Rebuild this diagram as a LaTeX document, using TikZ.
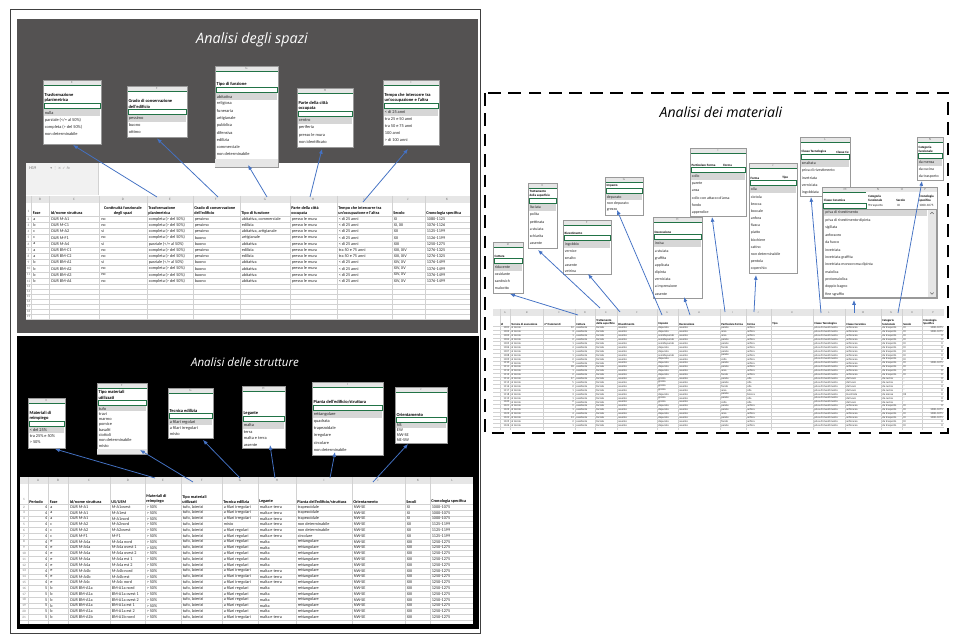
\documentclass[tikz,border=0pt]{standalone}
\usepackage{fontspec}
\setmainfont{Carlito}
\newfontfamily\titlefont{Open Sans}
\newfontfamily\symfont{DejaVu Sans}
\usepackage{tikz}
\usetikzlibrary{arrows.meta}

\definecolor{spazibg}{RGB}{84,82,82}
\definecolor{xlgreen}{RGB}{33,115,70}
\definecolor{hdgray}{RGB}{230,230,230}
\definecolor{hlgray}{RGB}{214,214,214}
\definecolor{gridgray}{RGB}{210,210,210}
\definecolor{arrowblue}{RGB}{68,114,196}

\tikzset{
  paneltitle/.style={font=\titlefont\itshape\fontsize{10.2}{12}\selectfont, inner sep=0pt},
  colletter/.style={font=\fontsize{2.4}{2.8}\selectfont, text=black!55, inner sep=0pt},
  rownum/.style={font=\fontsize{2.4}{2.8}\selectfont, text=black!55, inner sep=0pt},
  ddtitle/.style={font=\bfseries\fontsize{3.2}{3.8}\selectfont, align=left, anchor=south west, inner sep=0pt},
  dditem/.style={font=\fontsize{3.1}{3.6}\selectfont, anchor=west, inner sep=0pt, text=black!85},
  ddframe/.style={draw=black!40, line width=0.3pt},
  grid/.style={draw=gridgray, line width=0.2pt},
  cell/.style={font=\fontsize{3}{3.5}\selectfont, anchor=west, inner sep=0pt, text=black!85},
  hcell/.style={font=\bfseries\fontsize{3}{3.5}\selectfont, anchor=south west, align=left, inner sep=0pt},
  rcell/.style={font=\fontsize{2}{2.4}\selectfont, anchor=west, inner sep=0pt, text=black!80},
  rhcell/.style={font=\bfseries\fontsize{2.1}{2.5}\selectfont, anchor=south west, align=left, inner sep=0pt},
  link/.style={draw=arrowblue, line width=0.55pt, -{Latex[length=3.4pt,width=2.8pt]}},
}

% dropdown list: x, top, width, height, column letter, title, input offset, item step, items
\newcommand{\ddbox}[9]{%
  \fill[white] (#1,#2) rectangle ({#1+#3},{#2+#4});
  \fill[hdgray] (#1,#2) rectangle ({#1+#3},{#2+5.5});
  \draw[xlgreen, line width=0.4pt] (#1,{#2+5.5}) -- ({#1+#3},{#2+5.5});
  \node[colletter] (ddl#1-#2) at ({#1+#3/2},{#2+2.75}) {#5};
  \node[ddtitle] (ddt#1-#2) at ({#1+1.3},{#2+#7-0.6}) {#6};
  \fill[hlgray] ({#1+0.7},{#2+#7+6}) rectangle ({#1+#3-0.7},{#2+#7+6+#8});
  \draw[xlgreen, line width=0.4pt] ({#1+1.2},{#2+#7}) rectangle ({#1+#3-1.2},{#2+#7+5.5});
  \foreach \itm [count=\i from 0] in {#9}
    \node[dditem] (ddi#1-#2-\i) at ({#1+1.6},{#2+#7+6+(\i+0.5)*#8}) {\itm};
  \draw[ddframe] (#1,#2) rectangle ({#1+#3},{#2+#4});
}

\def\cmp{completa (> del 50\%)}
\def\prz{parziale (</= al 50\%)}
\def\tecR{a filari regolari}
\def\tecI{a filari irregolari}
\def\legMT{malta e terra}

\begin{document}
\begin{tikzpicture}[x=0.025cm, y=-0.025cm]
\useasboundingbox (0,0) rectangle (954,636);

% Frame and panels
\draw[black!75, line width=0.5pt] (10,9) rectangle (480,633);
\fill[spazibg] (17,19) rectangle (478,333);
\fill[black] (17,336) rectangle (479,629);
\draw[black, line width=1.3pt, dash pattern=on 9pt off 5.5pt] (485,93) rectangle (948,433);

% Titles
\node[paneltitle, text=white] (tspazi) at (252,40) {Analisi degli spazi};
\node[paneltitle, text=white, font=\titlefont\itshape\fontsize{8.2}{10}\selectfont] (tstrutt) at (245,362) {Analisi delle strutture};
\node[paneltitle, text=black, font=\titlefont\itshape\fontsize{10}{12}\selectfont] (tmat) at (721,112) {Analisi dei materiali};

% ---------------- Sheet: spazi
\fill[white] (26,163) rectangle (470,319);
\fill[hdgray!55] (26,163) rectangle (98,195);
\draw[grid] (98,163) -- (98,195);
\node[cell, text=black!60] (namebox) at (29,168) {H19};
\node[cell, font=\symfont\fontsize{2.6}{3}\selectfont, text=black!45] (fxbar) at (50,168) {▾ ⋮ × ✓ \textit{fx}};
\fill[hdgray] (26,196) rectangle (470,203);
\foreach \l/\cx in {B/40,C/74,D/123,E/170,F/216,G/265,H/313,I/364,J/408,K/447}
  \node[colletter] (spl\l) at (\cx,199.5) {\l};
\foreach \cx in {31,49,99,147,193,240,290,337,392,425}
  \draw[grid] (\cx,196) -- (\cx,319);
\foreach \r in {0,...,11}
  \draw[grid] (26,{216+\r*6.2}) -- (470,{216+\r*6.2});
\foreach \r in {1,...,7}
  \draw[grid] (26,{284.2+\r*5}) -- (470,{284.2+\r*5});
\node[rownum] (spn1) at (28.5,211) {1};
\foreach \r in {2,...,12}
  \node[rownum] (spn\r) at (28.5,{216+(\r-1.5)*6.2}) {\r};
\foreach \r in {13,...,19}
  \node[rownum] (spn\r) at (28.5,{284.2+(\r-12.5)*5}) {\r};
% header
\node[hcell] (sph1) at (32.5,215) {Fase};
\node[hcell] (sph2) at (50.5,215) {Id/nome struttura};
\node[hcell, anchor=south, align=center] (sph3) at (123,215) {Continuità funzionale\\degli spazi};
\node[hcell] (sph4) at (148,215) {Trasformazione\\planimetrica};
\node[hcell] (sph5) at (194,215) {Grado di conservazione\\dell'edificio};
\node[hcell] (sph6) at (241,215) {Tipo di funzione};
\node[hcell] (sph7) at (291,215) {Parte della città\\occupata};
\node[hcell] (sph8) at (338,215) {Tempo che intercorre tra\\un'occupazione e l'altra};
\node[hcell] (sph9) at (393,215) {Secolo};
\node[hcell] (sph10) at (426,215) {Cronologia specifica};
% rows
\foreach \fa/\id/\co/\tr/\gr/\ti/\pa/\te/\se/\cr [count=\r from 0] in {
  a/DUR M-A1/no/\cmp/pessimo/{abitativa, commerciale}/presso le mura/< di 25 anni/XI/1080-1125,
  b/DUR M-C1/no/\cmp/pessimo/edilizia/presso le mura/< di 25 anni/{XI, XII}/1076-1126,
  c/DUR M-A2/si/\cmp/pessimo/{abitativa, artigianale}/presso le mura/< di 25 anni/XII/1125-1199,
  c/DUR M-F1/no/\cmp/buono/artigianale/presso le mura/< di 25 anni/XII/1126-1199,
  a/DUR M-A4/si/\prz/buono/abitativa/presso le mura/< di 25 anni/XIII/1250-1275,
  a/DUR BM-C1/no/\cmp/pessimo/edilizia/presso le mura/tra 50 e 75 anni/{XIII, XIV}/1276-1325,
  a/DUR BM-C2/no/\cmp/pessimo/edilizia/presso le mura/tra 50 e 75 anni/{XIII, XIV}/1276-1325,
  b/DUR BM-A1/si/\prz/buono/abitativa/presso le mura/< di 25 anni/{XIV, XV}/1376-1499,
  b/DUR BM-A2/no/\cmp/buono/abitativa/presso le mura/< di 25 anni/{XIV, XV}/1376-1499,
  b/DUR BM-A3/no/\cmp/buono/abitativa/presso le mura/< di 25 anni/{XIV, XV}/1376-1499,
  b/DUR BM-A4/no/\cmp/buono/abitativa/presso le mura/< di 25 anni/{XIV, XV}/1376-1499}
{
  \pgfmathsetmacro\yy{219.1+\r*6.2}
  \node[cell] (spa\r) at (33,\yy) {\fa};
  \node[cell] (spc\r) at (51,\yy) {\id};
  \node[cell] (spd\r) at (101,\yy) {\co};
  \node[cell] (spe\r) at (148.5,\yy) {\tr};
  \node[cell] (spf\r) at (194.5,\yy) {\gr};
  \node[cell] (spg\r) at (241.5,\yy) {\ti};
  \node[cell] (sph\r) at (291.5,\yy) {\pa};
  \node[cell] (spi\r) at (338.5,\yy) {\te};
  \node[cell] (spj\r) at (393.5,\yy) {\se};
  \node[cell] (spk\r) at (426.5,\yy) {\cr};
}

% dropdowns: spazi
\ddbox{43}{80}{58}{64}{E}{Trasformazione\\planimetrica}{23}{7.2}{nulla,\prz,\cmp,non determinabile}
\ddbox{127}{86}{60}{51}{F}{Grado di conservazione\\dell'edificio}{23}{7}{pessimo,buono,ottimo}
\ddbox{215}{66}{63}{101}{G}{Tipo di funzione}{21}{7.2}{abitativa,religiosa,funeraria,artigianale,pubblica,difensiva,edilizia,commerciale,non determinabile}
\fill[hdgray] (215.3,159.5) rectangle (277.7,166.7);
\ddbox{297}{88}{56}{59}{H}{Parte della città\\occupata}{23}{7.2}{centro,periferia,presso le mura,non identificato}
\ddbox{383}{80}{56}{65}{I}{Tempo che intercorre tra\\un'occupazione e l'altra}{23}{7}{< di 25 anni,tra 25 e 50 anni,tra 50 e 75 anni,100 anni,> di 100 anni}

% links: spazi
\coordinate (hE) at (157,197);  \coordinate (dTrasf) at (73,145);
\coordinate (hF) at (218,197);  \coordinate (dGrado) at (157,138.5);
\coordinate (hG) at (267,197);  \coordinate (dTipo) at (248,165);
\coordinate (hH) at (310,197);  \coordinate (dParte) at (322,149);
\coordinate (hI) at (363,202);  \coordinate (dTempo) at (408,149);
\draw[link] (hE) -- (dTrasf);
\draw[link] (hF) -- (dGrado);
\draw[link] (hG) -- (dTipo);
\draw[link] (hH) -- (dParte);
\draw[link] (hI) -- (dTempo);

% ---------------- Sheet: strutture
\fill[white] (20,477) rectangle (473,624);
\fill[hdgray] (20,477) rectangle (473,484);
\foreach \l/\cx in {A/38,B/58,C/89,D/128,E/163,F/202,G/240,H/277,I/324,J/378,K/418,L/452}
  \node[colletter] (stl\l) at (\cx,480.5) {\l};
\foreach \cx in {28,48,68,110,145,181,222,258,296,352,405,430}
  \draw[grid] (\cx,477) -- (\cx,624);
\foreach \r in {0,...,20}
  \draw[grid] (20,{504.1+\r*5.8}) -- (473,{504.1+\r*5.8});
\node[rownum] (stn1) at (24,499) {1};
\foreach \r in {2,...,21}
  \node[rownum] (stn\r) at (24,{504.1+(\r-1.5)*5.8}) {\r};
\node[hcell] (sth1) at (29,503.5) {Periodo};
\node[hcell] (sth2) at (49.5,503.5) {Fase};
\node[hcell] (sth3) at (69.5,503.5) {Id/nome struttura};
\node[hcell] (sth4) at (111,503.5) {US/USM};
\node[hcell] (sth5) at (146,503.5) {Materiali di\\reimpiego};
\node[hcell] (sth6) at (182,503.5) {Tipo materiali\\utilizzati};
\node[hcell] (sth7) at (223,503.5) {Tecnica edilizia};
\node[hcell] (sth8) at (259,503.5) {Legante};
\node[hcell] (sth9) at (297,503.5) {Pianta dell'edificio/struttura};
\node[hcell] (sth10) at (353,503.5) {Orientamento};
\node[hcell] (sth11) at (406,503.5) {Secoli};
\node[hcell] (sth12) at (431,503.5) {Cronologia specifica};
\foreach \pe/\fa/\id/\us/\tc/\lg/\pi/\se/\cr [count=\r from 0] in {
  4/a/DUR M-A1/M-A1ovest/\tecI/\legMT/trapezoidale/XI/1000-1075,
  4/a/DUR M-A1/M-A1est/\tecI/\legMT/trapezoidale/XI/1000-1075,
  4/a/DUR M-A1/M-A1nord/\tecI/\legMT/trapezoidale/XI/1000-1075,
  4/c/DUR M-A2/M-A2nord/misto/\legMT/non determinabile/XII/1125-1199,
  4/c/DUR M-A2/M-A2ovest/\tecR/\legMT/non determinabile/XII/1125-1199,
  4/c/DUR M-F1/M-F1/\tecR/\legMT/circolare/XII/1125-1199,
  4/e/DUR M-A4a/M-A4a nord/\tecR/malta/rettangolare/XIII/1250-1275,
  4/e/DUR M-A4a/M-A4a ovest 1/\tecR/malta/rettangolare/XIII/1250-1275,
  4/e/DUR M-A4a/M-A4a ovest 2/\tecR/malta/rettangolare/XIII/1250-1275,
  4/e/DUR M-A4a/M-A4a est 1/\tecR/malta/rettangolare/XIII/1250-1275,
  4/e/DUR M-A4a/M-A4a est 2/\tecR/malta/rettangolare/XIII/1250-1275,
  4/e/DUR M-A4b/M-A4b nord/\tecI/\legMT/rettangolare/XIII/1250-1275,
  4/e/DUR M-A4b/M-A4b est/\tecI/\legMT/rettangolare/XIII/1250-1275,
  4/e/DUR M-A4c/M-A4c nord/\tecI/\legMT/rettangolare/XIII/1250-1275,
  5/b/DUR BM-A1a/BM-A1a nord/\tecR/malta/rettangolare/XIII/1250-1275,
  5/b/DUR BM-A1a/BM-A1a ovest 1/\tecR/malta/rettangolare/XIII/1250-1275,
  5/b/DUR BM-A1a/BM-A1a ovest 2/\tecR/malta/rettangolare/XIII/1250-1275,
  5/b/DUR BM-A1a/BM-A1a est 1/\tecR/malta/rettangolare/XIII/1250-1275,
  5/b/DUR BM-A1a/BM-A1a est 2/\tecR/malta/rettangolare/XIII/1250-1275,
  5/b/DUR BM-A1b/BM-A1b nord/\tecI/\legMT/rettangolare/XIII/1250-1275}
{
  \pgfmathsetmacro\yy{507+\r*5.8}
  \node[cell, anchor=east] (sta\r) at (47.5,\yy) {\pe};
  \node[cell] (stb\r) at (50,\yy) {\fa};
  \node[cell] (stc\r) at (70,\yy) {\id};
  \node[cell] (std\r) at (111.5,\yy) {\us};
  \node[cell] (ste\r) at (146.5,\yy) {> 50\%};
  \node[cell] (stf\r) at (182.5,\yy) {tufo, laterizi};
  \node[cell] (stg\r) at (223.5,\yy) {\tc};
  \node[cell] (sth\r) at (259.5,\yy) {\lg};
  \node[cell] (sti\r) at (297.5,\yy) {\pi};
  \node[cell] (stj\r) at (353.5,\yy) {NW-SE};
  \node[cell] (stk\r) at (406.5,\yy) {\se};
  \node[cell] (stm\r) at (431.5,\yy) {\cr};
}

% dropdowns: strutture
\ddbox{28}{398}{37}{50}{E}{Materiali di\\reimpiego}{23}{6}{< del 25\%,tra 25\% e 50\%,> 50\%}
\ddbox{97}{383}{50}{71}{F}{Tipo materiali\\utilizzati}{17}{5.3}{tufo,travi,marmo,pomice,basalti,ciottoli,non determinabile,misto}
\fill[hdgray] (97.3,449.2) rectangle (146.7,453.7);
\ddbox{168}{388}{45}{50}{G}{Tecnica edilizia}{25}{6}{a filari regolari,a filari irregolari,misto}
\ddbox{242}{386}{43}{62}{H}{Legante}{30}{6.5}{malta,terra,malta e terra,assente}
\ddbox{312}{382}{71}{73}{I}{Pianta dell'edificio/struttura}{23}{7.1}{rettangolare,quadrata,trapezoidale,irregolare,circolare,non determinabile}
\ddbox{395}{387}{52}{56}{J}{Orientamento}{30}{5}{NS,EW,NW-SE,NE-SW}

% links: strutture
\coordinate (sE) at (155,478);  \coordinate (dMat) at (55,449);
\coordinate (sF) at (193,482);  \coordinate (dTmat) at (140,450);
\coordinate (sG) at (240,478);  \coordinate (dTec) at (203,440);
\coordinate (sH) at (275,478);  \coordinate (dLeg) at (270,445);
\coordinate (sI) at (330,478);  \coordinate (dPia) at (335,452);
\coordinate (sJ) at (373,482);  \coordinate (dOri) at (408,444);
\draw[link] (sE) -- (dMat);
\draw[link] (sF) -- (dTmat);
\draw[link] (sG) -- (dTec);
\draw[link] (sH) -- (dLeg);
\draw[link] (sI) -- (dPia);
\draw[link] (sJ) -- (dOri);

% ---------------- Sheet: materiali
\fill[white] (493,309) rectangle (944,430);
\fill[hdgray] (493,309) rectangle (944,316);
\foreach \l/\cx in {A/505,B/527,C/559,D/585,E/606,F/637,G/667,H/699,I/733,J/758,K/792,L/829,M/863,N/891,O/912,P/933}
  \node[colletter, font=\fontsize{2}{2.4}\selectfont] (mal\l) at (\cx,312.5) {\l};
\foreach \cx in {500,510,543,575,595,617,657,678,720,746,771,813,845,881,902,922}
  \draw[grid] (\cx,309) -- (\cx,430);
\foreach \r in {0,...,26}
  \draw[grid] (493,{326+\r*3.9}) -- (944,{326+\r*3.9});
\node[rhcell] (mah1) at (500.5,325.5) {Id};
\node[rhcell] (mah2) at (511,325.5) {Tecnica di esecuzione};
\node[rhcell] (mah3) at (544,325.5) {n° frammenti};
\node[rhcell] (mah4) at (576,325.5) {Cottura};
\node[rhcell] (mah5) at (596,325.5) {Trattamento\\della superficie};
\node[rhcell] (mah6) at (618,325.5) {Rivestimento};
\node[rhcell] (mah7) at (658,325.5) {Impasto};
\node[rhcell] (mah8) at (679,325.5) {Decorazione};
\node[rhcell] (mah9) at (721,325.5) {Particolare Forma};
\node[rhcell] (mah10) at (747,325.5) {Forma};
\node[rhcell] (mah11) at (772,325.5) {Tipo};
\node[rhcell] (mah12) at (814,325.5) {Classe Tecnologica};
\node[rhcell] (mah13) at (846,325.5) {Classe Ceramica};
\node[rhcell] (mah14) at (882,325.5) {Categoria\\funzionale};
\node[rhcell] (mah15) at (903,325.5) {Secolo};
\node[rhcell] (mah16) at (923,325.5) {Cronologia\\Specifica};
\foreach \id/\nf/\im/\pf/\fo/\cc/\ca/\se/\cr [count=\r from 0] in {
  1101/12/depurato/parete/anfora/anforaceo/da trasporto/XI/1000-1075,
  1102/3/depurato/ansa/anfora/anforaceo/da trasporto/XI/1000-1075,
  1103/1/semidepurato/ansa/anfora/anforaceo/da trasporto/XI/0,
  1104/2/semidepurato/parete/anfora/anforaceo/da trasporto/XI/0,
  1105/1/semidepurato/parete/anfora/anforaceo/da trasporto/XI/0,
  1106/4/depurato/fondo/anfora/anforaceo/da trasporto/XI/0,
  1107/1/depurato/parete/anfora/anforaceo/da trasporto/XI/0,
  1108/1/semidepurato/parete/anfora/anforaceo/da trasporto/XI/0,
  1109/2/depurato/collo/anfora/anforaceo/da trasporto/XI/0,
  1110/1/depurato/parete/anfora/anforaceo/da trasporto/XI/1000-1075,
  1111/18/depurato/parete/anfora/anforaceo/da trasporto/XI/0,
  1112/1/depurato/ansa/anfora/anforaceo/da trasporto/XI/0,
  1113/2/depurato/fondo/anfora/anforaceo/da trasporto/XI/0,
  1114/17/grezzo/parete/olla/da fuoco/da cucina/-/0,
  1115/5/grezzo/parete/olla/da fuoco/da cucina/-/0,
  1116/2/grezzo/fondo/olla/da fuoco/da cucina/-/0,
  1117/1/grezzo/ansa/olla/da fuoco/da cucina/-/0,
  1118/3/depurato/parete/brocca/invetriata/da mensa/XII/0,
  1119/1/grezzo/parete/olla/da fuoco/da cucina/-/0,
  1120/2/grezzo/collo/olla/da fuoco/da cucina/-/0,
  1121/9/depurato/parete/anfora/anforaceo/da trasporto/XI/0,
  1122/1/depurato/parete/anfora/anforaceo/da trasporto/XI/1000-1075,
  1123/4/depurato/ansa/anfora/anforaceo/da trasporto/XI/1000-1075,
  1124/13/depurato/parete/anfora/anforaceo/da trasporto/XI/1000-1075,
  1125/2/depurato/fondo/anfora/anforaceo/da trasporto/XI/0,
  1126/1/depurato/parete/anfora/anforaceo/da trasporto/XI/0}
{
  \pgfmathsetmacro\yy{327.95+\r*3.9}
  \node[rcell, anchor=east] (maa\r) at (509.5,\yy) {\id};
  \node[rcell] (mab\r) at (511,\yy) {al tornio};
  \node[rcell, anchor=east] (mac\r) at (574,\yy) {\nf};
  \node[rcell] (mad\r) at (576,\yy) {ossidante};
  \node[rcell] (mae\r) at (596,\yy) {lisciata};
  \node[rcell] (maf\r) at (618,\yy) {assente};
  \node[rcell] (mag\r) at (658,\yy) {\im};
  \node[rcell] (mah\r) at (679,\yy) {assente};
  \node[rcell] (mai\r) at (721,\yy) {\pf};
  \node[rcell] (maj\r) at (747,\yy) {\fo};
  \node[rcell] (mal\r) at (814,\yy) {priva di rivestimento};
  \node[rcell] (mam\r) at (846,\yy) {\cc};
  \node[rcell] (man\r) at (882,\yy) {\ca};
  \node[rcell] (mao\r) at (903,\yy) {\se};
  \node[rcell, anchor=east] (map\r) at (943,\yy) {\cr};
}

% dropdowns: materiali
\begin{scope}[ddtitle/.append style={font=\bfseries\fontsize{2.3}{2.7}\selectfont},
              dditem/.append style={font=\fontsize{2.8}{3.2}\selectfont}]
\ddbox{493}{242}{30}{51}{D}{Cottura}{16}{7}{riducente,ossidante,sandwich,malcotto}
\ddbox{528}{183}{29}{65}{E}{Trattamento\\della superficie}{15}{7.2}{lisciata,polita,pettinata,a stuiata,schiarita,assente}
\ddbox{563}{220}{48}{54}{F}{Rivestimento}{15}{6.8}{ingobbio,vernice,smalto,assente,vetrina}
\ddbox{605}{177}{38}{38}{G}{Impasto}{11}{6.5}{depurato,non depurato,grezzo}
\ddbox{653}{217}{49}{81}{H}{Decorazione}{17}{7.2}{incisa,a stuiata,graffita,applicata,dipinta,verniciata,a impressione,assente}
\ddbox{690}{148}{56}{68}{I}{Particolare Forma}{19}{7.1}{collo,parete,ansa,collo con attacco d'ansa,fondo,appendice}
\node[ddtitle] (pfForma) at (723,166.4) {Forma};
\ddbox{749}{163}{48}{110}{J}{Forma}{17}{7.2}{olla,ciotola,brocca,boccale,anfora,fiasca,piatto,bicchiere,catino,non determinabile,pentola,coperchio}
\node[ddtitle] (foTipo) at (782,179.4) {Tipo};
\ddbox{800}{137}{50}{59}{L}{Classe Tecnologica}{17}{7.2}{smaltata,priva di rivestimento,invetriata,verniciata,ingobbiata}
\node[ddtitle] (ctCe) at (836,153.4) {Classe Ce};
% Classe Ceramica list
\fill[white] (822,187) rectangle (937,298);
\fill[hdgray] (822,187) rectangle (937,192.5);
\draw[xlgreen, line width=0.4pt] (822,192.5) -- (866,192.5);
\foreach \l/\cx in {M/845,N/878,O/902,P/925}
  \node[colletter] (ccl\l) at (\cx,189.75) {\l};
\node[ddtitle] (ccT) at (823.5,202) {Classe Ceramica};
\node[ddtitle] (ccN) at (868,202) {Categoria\\funzionale};
\node[ddtitle] (ccO) at (896,202) {Secolo};
\node[ddtitle] (ccP) at (919,202) {Cronologia\\specifica};
\draw[xlgreen, line width=0.4pt] (823.5,203) rectangle (866,208);
\node[dditem, font=\fontsize{2.3}{2.7}\selectfont] (ccNv) at (868,205.5) {{\symfont ▾} trasporto};
\node[dditem, font=\fontsize{2.3}{2.7}\selectfont] (ccOv) at (897,205.5) {XI};
\node[dditem, font=\fontsize{2.3}{2.7}\selectfont] (ccPv) at (919,205.5) {1000-1075};
\fill[hlgray] (823.5,209) rectangle (927,216.4);
\fill[hdgray] (928,209) rectangle (936,297.5);
\draw[black!60, line width=0.35pt] (930.3,214) -- (932,212.3) -- (933.7,214);
\draw[black!60, line width=0.35pt] (930.3,292.5) -- (932,294.2) -- (933.7,292.5);
\foreach \itm [count=\i from 0] in {priva di rivestimento,priva di rivestimento-dipinta,sigillata,anforaceo,da fuoco,invetriata,invetriata graffita,invetriata monocroma dipinta,maiolica,protomaiolica,doppio bagno,fine sgraffio}
  \node[dditem] (cci\i) at (825,{209+(\i+0.5)*7.4}) {\itm};
\draw[ddframe] (823,209) rectangle (936.5,297.5);
\draw[ddframe] (822,187) rectangle (937,298);
\ddbox{917}{137}{26}{43}{N}{Categoria\\funzionale}{16}{7}{da mensa,da cucina,da trasporto}
\end{scope}

% links: materiali
\coordinate (mD) at (578,315);  \coordinate (dCot) at (510,294);
\coordinate (mE) at (600,308);  \coordinate (dTra) at (538,250);
\coordinate (mF) at (620,312);  \coordinate (dRiv) at (588,274);
\coordinate (mG) at (662,315);  \coordinate (dImp) at (617,210);
\coordinate (mH) at (690,315);  \coordinate (dDec) at (684,297);
\coordinate (mI) at (725,312);  \coordinate (dPfo) at (712,217);
\coordinate (mJ) at (754,312);  \coordinate (dFor) at (756,275);
\coordinate (mL) at (821,313);  \coordinate (dCte) at (811,197);
\coordinate (mM) at (854,313);  \coordinate (dCce) at (854,300);
\coordinate (mN) at (898,313);  \coordinate (dCat) at (922,181);
\draw[link] (mD) -- (dCot);
\draw[link] (mE) -- (dTra);
\draw[link] (mF) -- (dRiv);
\draw[link] (mG) -- (dImp);
\draw[link] (mH) -- (dDec);
\draw[link] (mI) -- (dPfo);
\draw[link] (mJ) -- (dFor);
\draw[link] (mL) -- (dCte);
\draw[link] (mM) -- (dCce);
\draw[link] (mN) -- (dCat);
\end{tikzpicture}
\end{document}
